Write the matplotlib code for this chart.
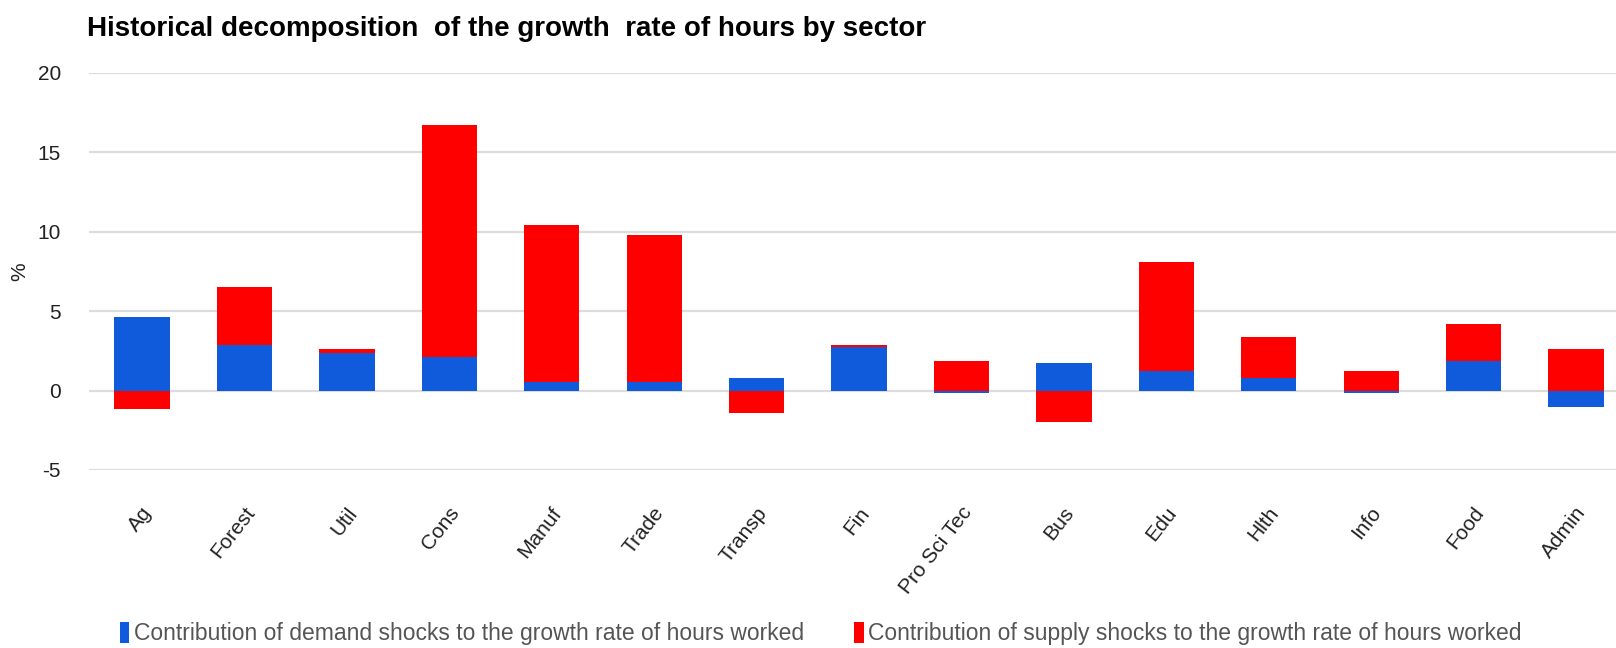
import matplotlib
matplotlib.use("Agg")
import matplotlib.pyplot as plt
from matplotlib.transforms import ScaledTranslation
import numpy as np

sectors = ["Ag", "Forest", "Util", "Cons", "Manuf", "Trade", "Transp", "Fin",
           "Pro Sci Tec", "Bus", "Edu", "Hlth", "Info", "Food", "Admin"]
demand = [4.64, 2.84, 2.34, 2.12, 0.53, 0.53, 0.78, 2.75,
          -0.17, 1.75, 1.26, 0.78, -0.17, 1.84, -1.06]
supply = [-1.16, 3.65, 0.25, 14.62, 9.87, 9.26, -1.42, 0.10,
          1.87, -2.00, 6.83, 2.56, 1.26, 2.34, 2.60]
yticks = [-5, 0, 5, 10, 15, 20]

BLUE = "#0f5bdc"
RED = "#ff0000"
FONT = ["Liberation Sans", "DejaVu Sans"]
plt.rcParams["font.family"] = FONT

demand = np.array(demand)
supply = np.array(supply)
# stack positives on positives, negatives on negatives
sup_base = np.where(np.sign(supply) == np.sign(demand), demand, 0)

fig = plt.figure(figsize=(16.16, 6.48), dpi=100)
ax = fig.add_axes([0.055, 0.2747, 0.952, 0.6131])

x = np.arange(len(sectors))
w = 0.54
ax.bar(x, demand, w, color=BLUE, label="Contribution of demand shocks to the growth rate of hours worked", zorder=3)
ax.bar(x, supply, w, bottom=sup_base, color=RED,
       label="Contribution of supply shocks to the growth rate of hours worked", zorder=3)

ax.set_ylim(-5, 20)
ax.set_xlim(-0.52, 14.5)
ax.set_yticks(yticks)
ax.set_yticklabels([str(t) for t in yticks], fontsize=15, color="#222222")
ax.yaxis.grid(True, color="#dcdcdc", linewidth=1.6, zorder=0)
ax.tick_params(axis="y", length=0, pad=20)
ax.tick_params(axis="x", length=0, pad=14)
for s in ax.spines.values():
    s.set_visible(False)

ax.set_xticks(x)
ax.set_xticklabels(sectors, rotation=52, ha="right", rotation_mode="anchor",
                   fontsize=15, color="#222222")
for lbl in ax.get_xticklabels():
    lbl.set_transform(lbl.get_transform() + ScaledTranslation(-0.01, -0.14, fig.dpi_scale_trans))

ax.set_ylabel("%", fontsize=15, color="#222222", labelpad=6)

fig.text(0.054, 0.955, "Historical decomposition  of the growth  rate of hours by sector",
         fontsize=20, fontweight="bold", color="black", va="center")

leg = fig.legend(loc="center", bbox_to_anchor=(0.508, 0.022), ncol=2, frameon=False,
                 fontsize=16.5, handlelength=0.4, handleheight=1.0, handletextpad=0.2,
                 columnspacing=2.2, labelcolor="#555555")

fig.savefig("out.png", dpi=100)
